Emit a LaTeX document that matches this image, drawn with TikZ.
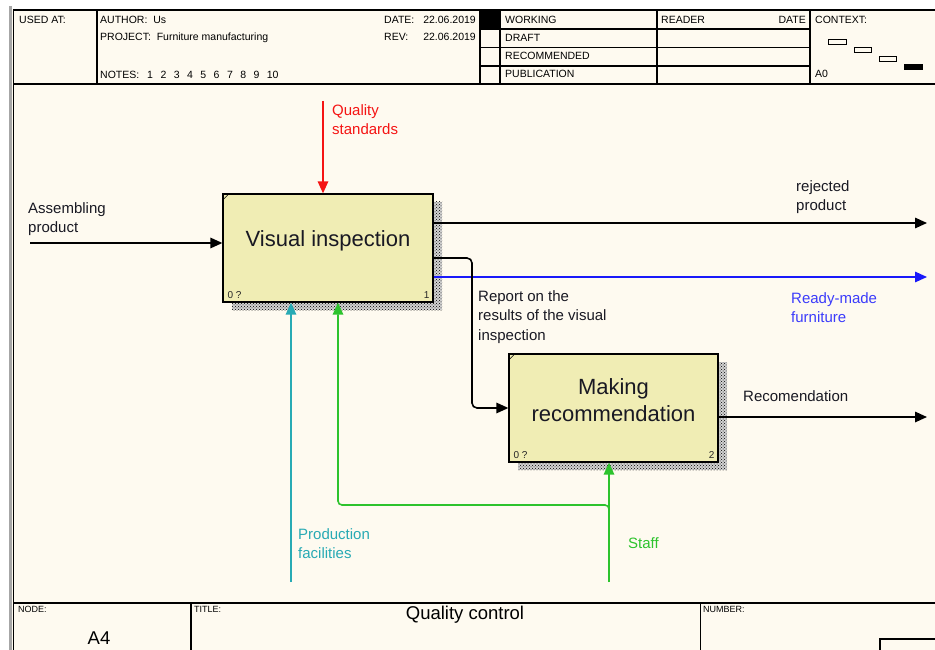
\documentclass[tikz,border=0pt]{standalone}
\usepackage{fontspec}
\setmainfont{Liberation Sans}
\usepackage{xcolor}
\usepackage{tikz}
\usetikzlibrary{arrows.meta, positioning, shadows, patterns, calc}

\definecolor{paper}{RGB}{254,250,240}
\definecolor{boxfill}{RGB}{240,237,180}
\definecolor{ctrlred}{RGB}{245,20,20}
\definecolor{outblue}{RGB}{25,25,250}
\definecolor{mechteal}{RGB}{40,170,180}
\definecolor{mechgreen}{RGB}{45,195,45}
\definecolor{txtdark}{RGB}{25,25,35}

\newcommand{\hdrsize}{\fontsize{10.5}{12}\selectfont}
\newcommand{\lblsize}{\fontsize{15}{19.5}\selectfont}
\newcommand{\actsize}{\fontsize{22}{26.5}\selectfont}
\newcommand{\numsize}{\fontsize{10}{11}\selectfont}
\newcommand{\tagsize}{\fontsize{9}{10}\selectfont}
\newcommand{\ttlsize}{\fontsize{18.5}{22}\selectfont}

\begin{document}
\begin{tikzpicture}[x=1pt, y=-1pt,
  frame/.style={line width=1.1pt, black},
  hdr/.style={font=\hdrsize, inner sep=0pt, anchor=base west},
  tag/.style={font=\tagsize, inner sep=0pt, anchor=base west},
  act/.style={draw, line width=1.3pt, fill=boxfill, minimum width=210pt,
    minimum height=108pt, inner sep=0pt,
    drop shadow={shadow xshift=9pt, shadow yshift=-8pt, opacity=1,
      fill=gray!35, postaction={pattern=crosshatch dots, pattern color=black}}},
  acttext/.style={font=\actsize, align=center, inner sep=0pt, text=txtdark},
  num/.style={font=\numsize, inner sep=0pt, text=black!85},
  lbl/.style={font=\lblsize, align=left, inner sep=0pt, anchor=north west, text=txtdark},
  flow/.style={line width=1.6pt, -{Triangle[length=12pt, width=10.5pt]}}
  ]
  \useasboundingbox (0,0) rectangle (935,650);

  % Sheet
  \fill[white] (0,0) rectangle (935,650);
  \fill[paper] (12,9) rectangle (935,650);
  \fill[gray!70] (9,6) rectangle (12,650);

  % Header frame
  \draw[frame] (935,10) -- (13.5,10) -- (13.5,650);
  \draw[frame] (13.5,84) -- (935,84);
  \foreach \x in {97,480,500,657,810}
    \draw[frame] (\x,10) -- (\x,84);
  \foreach \y in {29,47.5,66}
    \draw[frame] (480,\y) -- (810,\y);
  \fill (480,10) rectangle (500,29);

  \node[hdr] (usedL) at (19,24) {USED AT:};
  \node[hdr] (authL) at (100,24) {AUTHOR:\ \ Us};
  \node[hdr] (projL) at (100,41) {PROJECT:\ \ Furniture manufacturing};
  \node[hdr] (notesL) at (100,79) {NOTES:};
  \foreach \n in {1,...,10}
    \node[hdr] (note\n) at ({147+13.3*(\n-1)},79) {\n};
  \node[hdr] (dateL) at (384,24) {DATE:};
  \node[hdr, anchor=base east] (dateV) at (476,24) {22.06.2019};
  \node[hdr] (revL) at (384,41) {REV:};
  \node[hdr, anchor=base east] (revV) at (476,41) {22.06.2019};
  \node[hdr] (workL) at (505,24) {WORKING};
  \node[hdr] (draftL) at (505,42) {DRAFT};
  \node[hdr] (recoL) at (505,60) {RECOMMENDED};
  \node[hdr] (pubL) at (505,78) {PUBLICATION};
  \node[hdr] (readL) at (661,24) {READER};
  \node[hdr, anchor=base east] (rdateL) at (806,24) {DATE};
  \node[hdr] (ctxL) at (815,24) {CONTEXT:};
  \node[hdr] (aoL) at (815,78) {A0};

  % Context marks
  \draw[line width=0.8pt] (828,39) rectangle (846,44);
  \draw[line width=0.8pt] (854,47) rectangle (871,52);
  \draw[line width=0.8pt] (879,56) rectangle (896,61);
  \fill (904,64) rectangle (923,70);

  % Activities
  \node[act] (vis) at (328,248) {};
  \node[act, minimum width=209pt] (rec) at (613.5,408) {};
  \node[acttext] (visT) at ([yshift=7pt]vis.center) {Visual inspection};
  \node[acttext] (recT) at ([yshift=8pt]rec.center) {Making\\recommendation};
  \draw[line width=0.6pt] ([yshift=-7pt]vis.north west) -- ([xshift=7pt]vis.north west);
  \draw[line width=0.6pt] ([yshift=-7pt]rec.north west) -- ([xshift=7pt]rec.north west);
  \node[num, anchor=base west] (visN0) at ([xshift=5pt, yshift=4pt]vis.south west) {0 ?};
  \node[num, anchor=base east] (visN1) at ([xshift=-4pt, yshift=4pt]vis.south east) {1};
  \node[num, anchor=base west] (recN0) at ([xshift=5pt, yshift=4pt]rec.south west) {0 ?};
  \node[num, anchor=base east] (recN2) at ([xshift=-4pt, yshift=4pt]rec.south east) {2};

  % Arrows
  \coordinate (asmS) at (30,243);
  \draw[flow] (asmS) -- (asmS -| vis.west);
  \coordinate (qsS) at (323,101);
  \draw[flow, ctrlred, line width=1.4pt] (qsS) -- (qsS |- vis.north);
  \coordinate (rejE) at (927,223);
  \draw[flow] (rejE -| vis.east) -- (rejE);
  \coordinate (rmE) at (927,277);
  \draw[flow, outblue] (rmE -| vis.east) -- (rmE);
  \coordinate (repB) at (472,258);
  \coordinate (repC) at (472,408);
  \draw[flow, rounded corners=5pt] (repB -| vis.east) -- (repB) -- (repC) -- (rec.west);
  \coordinate (rcE) at (927,417);
  \draw[flow] (rcE -| rec.east) -- (rcE);
  \coordinate (pfS) at (291,582);
  \draw[flow, mechteal] (pfS) -- (pfS |- vis.south);
  \coordinate (stS) at (609,582);
  \draw[flow, mechgreen] (stS) -- (stS |- rec.south);
  \coordinate (stB) at (609,505);
  \coordinate (stC) at (338,505);
  \draw[flow, mechgreen, rounded corners=4pt] ([yshift=-6pt]stB) -- (stB) -- (stC) -- (stC |- vis.south);

  % Arrow labels
  \node[lbl] (asmL) at (28,202) {Assembling\\product};
  \node[lbl, text=ctrlred] (qsL) at (332,104) {Quality\\standards};
  \node[lbl] (rejL) at (796,180) {rejected\\product};
  \node[lbl] (repL) at (478,290) {Report on the\\results of the visual\\inspection};
  \node[lbl, text=outblue!85!white] (rmL) at (791,292) {Ready-made\\furniture};
  \node[lbl] (rcL) at (743,390) {Recomendation};
  \node[lbl, text=mechteal] (pfL) at (298,528) {Production\\facilities};
  \node[lbl, text=mechgreen] (stL) at (628,537) {Staff};

  % Footer
  \draw[frame] (13.5,603) -- (935,603);
  \draw[frame] (191,603) -- (191,650);
  \draw[frame] (700.5,603) -- (700.5,650);
  \draw[frame] (880,651) -- (880,639) -- (936,639);
  \node[tag] (nodeL) at (18,612) {NODE:};
  \node[tag] (titleL) at (194,612) {TITLE:};
  \node[tag] (numL) at (703,612) {NUMBER:};
  \node[font=\ttlsize, inner sep=0pt, anchor=base] (ttl) at (465,619) {Quality control};
  \node[font=\ttlsize, inner sep=0pt, anchor=base] (nodeV) at (99,644) {A4};
\end{tikzpicture}
\end{document}
